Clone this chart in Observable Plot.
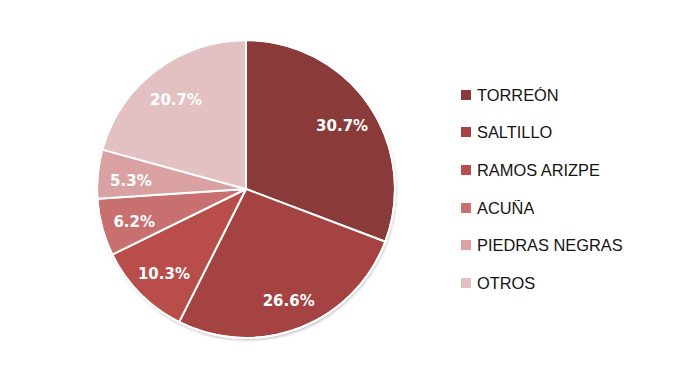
<!DOCTYPE html>
<html>
<head>
<meta charset="utf-8">
<script src="https://cdn.jsdelivr.net/npm/d3@7"></script>
<script src="https://cdn.jsdelivr.net/npm/@observablehq/plot@0.6"></script>
<style>
  html, body { margin: 0; padding: 0; background: #ffffff; }
  #wrap { position: relative; width: 685px; height: 380px; overflow: hidden; }
  #wrap svg.main { position: absolute; left: 0; top: 0; }
  #legend { position: absolute; left: 461px; top: 76px; }
  #legend .lg-swatches { font-family: "Liberation Sans", Arial, sans-serif !important; font-size: 16.4px !important; color: #141414 !important; margin: 0 !important; }
  #legend .lg-swatch { height: 37.6px !important; padding: 0 !important; display: flex !important; align-items: center !important; margin: 0 !important; }
  #legend .lg-swatch > svg { margin-right: 6px !important; flex: none; }
  #legend .lg-swatch-label { line-height: 16px; }
</style>
</head>
<body>
<div id="wrap"></div>
<script>
const categories = ["TORRE\u00d3N", "SALTILLO", "RAMOS ARIZPE", "ACU\u00d1A", "PIEDRAS NEGRAS", "OTROS"];
const shares = [30.7, 26.6, 10.3, 6.2, 5.3, 20.7];
const labels = ["30.7%", "26.6%", "10.3%", "6.2%", "5.3%", "20.7%"];
const palette = ["#8b3a3a", "#a44341", "#b84d49", "#c87070", "#d9a1a1", "#e3c1c3"];

const data = categories.map((name, i) => ({name, value: shares[i], label: labels[i]}));

const colorScale = Plot.scale({color: {type: "ordinal", domain: categories, range: palette}});

const arcs = d3.pie().sort(null).value(d => d.value)(data);
const labelPos = arcs.map(a => {
  const mid = (a.startAngle + a.endAngle) / 2;
  return {label: a.data.label, x: Math.sin(mid) * 0.78, y: -Math.cos(mid) * 0.78};
});

function pieSlices(index, scales) {
  const cx = scales.x(0), cy = scales.y(0);
  const r = scales.x(1) - scales.x(0);
  const g = d3.create("svg:g").attr("transform", `translate(${cx},${cy})`);
  const f = g.append("filter").attr("id", "shadow").attr("x", "-20%").attr("y", "-20%").attr("width", "140%").attr("height", "140%");
  f.append("feDropShadow").attr("dx", 1).attr("dy", 2).attr("stdDeviation", 1.6).attr("flood-color", "#000").attr("flood-opacity", 0.28);
  g.append("circle").attr("r", r).attr("fill", "#ffffff").attr("filter", "url(#shadow)");
  const arc = d3.arc().innerRadius(0).outerRadius(r);
  g.selectAll("path.slice").data(arcs).join("path")
    .attr("class", "slice")
    .attr("d", arc)
    .attr("fill", d => colorScale.apply(d.data.name))
    .attr("stroke", "#ffffff")
    .attr("stroke-width", 2)
    .attr("stroke-linejoin", "round");
  g.append("circle").attr("r", r).attr("fill", "none").attr("stroke", "#ffffff").attr("stroke-width", 2);
  return g.node();
}

const plot = Plot.plot({
  width: 685,
  height: 380,
  margin: 0,
  x: {domain: [-1, 1], range: [97, 395], axis: null},
  y: {domain: [-1, 1], range: [40, 338], axis: null},
  marks: [
    pieSlices,
    Plot.text(labelPos, {
      x: "x", y: "y", text: "label",
      fill: "#ffffff",
      fontFamily: "DejaVu Sans, sans-serif",
      fontWeight: "bold",
      fontSize: 15,
      textAnchor: "middle",
      dy: 3
    })
  ]
});
plot.classList.add("main");
document.getElementById("wrap").appendChild(plot);

const legend = Plot.legend({
  color: {type: "ordinal", domain: categories, range: palette},
  legend: "swatches",
  columns: 1,
  swatchSize: 10,
  className: "lg"
});
const lgDiv = document.createElement("div");
lgDiv.id = "legend";
lgDiv.appendChild(legend);
document.getElementById("wrap").appendChild(lgDiv);
</script>
</body>
</html>
